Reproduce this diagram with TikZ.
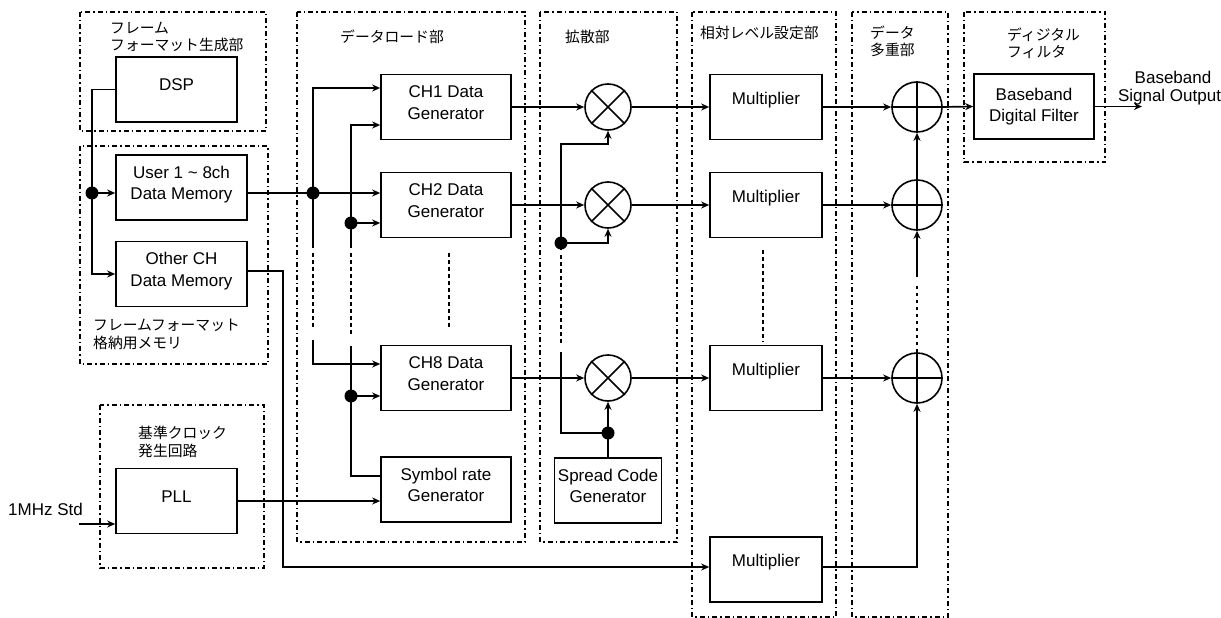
\documentclass[tikz,border=0pt]{standalone}
\usepackage{fontspec}
\setmainfont{Liberation Sans}
\newfontfamily\jp{Noto Sans CJK JP}
\usetikzlibrary{arrows.meta,calc}

\begin{document}
\begin{tikzpicture}[x=1pt,y=-1pt,
  wire/.style={line width=1.7pt},
  arr/.style={wire,-{Stealth[length=8pt,width=7pt,inset=2.5pt]}},
  dots/.style={line width=1.7pt,dash pattern=on 3.5pt off 3.5pt},
  group/.style={line width=1.6pt,dash pattern=on 5pt off 3pt on 1.5pt off 3pt},
  box/.style={draw,line width=1.6pt,minimum height=65pt,inner sep=0pt,align=center,
    font=\fontsize{17}{21.5}\selectfont},
  raised/.style={text depth=9pt},
  multbox/.style={box,text depth=18pt,minimum width=112pt},
  mixer/.style={draw,circle,line width=1.6pt,minimum size=46pt,inner sep=0pt},
  adder/.style={draw,circle,line width=1.6pt,minimum size=50pt,inner sep=0pt},
  dot/.style={circle,fill,inner sep=0pt,minimum size=13pt},
  jlabel/.style={anchor=base west,align=left,inner sep=0pt,
    font=\jp\fontsize{14.8}{17.5}\selectfont},
  txt/.style={inner sep=0pt,font=\fontsize{17}{21.5}\selectfont}
]
\useasboundingbox (0,0) rectangle (1221,618);

% ---- functional groups (dash-dot frames) ----
\draw[group] (80,12) rectangle (266,131);
\draw[group] (80,146) rectangle (268,364);
\draw[group] (100,405) rectangle (264,568);
\draw[group] (297,12) rectangle (525,542);
\draw[group] (540,12) rectangle (677,542);
\draw[group] (692,12) rectangle (836,617);
\draw[group] (852,12) rectangle (948,617);
\draw[group] (964,12) rectangle (1105,162);

% group titles; for two-line titles the base anchor sits on the last line
\node[jlabel] (lFrame) at (110,51) {フレーム\\フォーマット生成部};
\node[jlabel] (lMem) at (93,348) {フレームフォーマット\\格納用メモリ};
\node[jlabel] (lClock) at (138,456) {基準クロック\\発生回路};
\node[jlabel] (lLoad) at (340,43) {データロード部};
\node[jlabel] (lSpread) at (565,43) {拡散部};
\node[jlabel] (lLevel) at (700,39) {相対レベル設定部};
\node[jlabel] (lMux) at (870,56) {データ\\多重部};
\node[jlabel] (lFilt) at (1007,58) {ディジタル\\フィルタ};

% ---- blocks ----
\node[box,raised,minimum width=121pt] (dsp) at (176.5,89.5) {DSP};
\node[box,raised,minimum width=131pt] (umem) at (181.5,187.5) {User 1 \textasciitilde{} 8ch\\Data Memory};
\node[box,raised,minimum width=131pt] (omem) at (181.5,274) {Other CH\\Data Memory};
\node[box,raised,minimum width=121pt] (pll) at (176.5,501) {PLL};

\node[box,raised,minimum width=130pt] (ch1) at (446,107) {CH1 Data\\Generator};
\node[box,raised,minimum width=130pt] (ch2) at (446,205) {CH2 Data\\Generator};
\node[box,raised,minimum width=130pt] (ch8) at (446,378) {CH8 Data\\Generator};
\node[box,raised,minimum width=130pt] (sym) at (446,489.5) {Symbol rate\\Generator};

\node[mixer] (mx1) at (608,107) {};
\node[mixer] (mx2) at (608,205) {};
\node[mixer] (mx3) at (608,378) {};
\foreach \m in {mx1,mx2,mx3}
  \draw[line width=1.5pt] (\m.45) -- (\m.225) (\m.135) -- (\m.315);
\node[box,raised,minimum width=107pt] (scg) at (608,490.5) {Spread Code\\Generator};

\node[multbox] (ml1) at (766,107) {Multiplier};
\node[multbox] (ml2) at (766,205) {Multiplier};
\node[multbox] (ml3) at (766,378) {Multiplier};
\node[multbox] (ml4) at (766,569.5) {Multiplier};

\node[adder] (ad1) at (917,107) {};
\node[adder] (ad2) at (917,205) {};
\node[adder] (ad3) at (917,378) {};
\foreach \a in {ad1,ad2,ad3}
  \draw[line width=1.5pt] (\a.north) -- (\a.south) (\a.west) -- (\a.east);

\node[box,minimum width=120pt] (bdf) at (1034,106.5) {Baseband\\Digital Filter};

% ---- frame memory feed ----
\coordinate (j1) at (92,193);
\draw[arr] (dsp.west) -| (j1) |- (omem.west);
\draw[arr] (j1) -- (umem.west |- j1);

% ---- data bus and clock bus of the data load section ----
\coordinate (aTop) at (313,88);
\coordinate (aDot) at (313,193);
\coordinate (aEnd) at (313,248);
\coordinate (aD1) at (313,253);
\coordinate (aD2) at (313,328);
\coordinate (aLow) at (313,340);
\coordinate (a8) at (313,364);
\draw[arr] (aEnd) -- (aTop) -- (ch1.west |- aTop);
\draw[arr] (umem.east |- aDot) -- (ch2.west |- aDot);
\draw[dots] (aD1) -- (aD2);
\draw[arr] (aLow) |- (ch8.west |- a8);

\coordinate (bTop) at (351,125);
\coordinate (bDot) at (351,223);
\coordinate (bEnd) at (351,248);
\coordinate (bD1) at (351,253);
\coordinate (bD2) at (351,335);
\coordinate (bLow) at (351,346);
\coordinate (b8) at (351,396);
\coordinate (bSym) at (351,476);
\draw[arr] (bEnd) -- (bTop) -- (ch1.west |- bTop);
\draw[arr] (bDot) -- (ch2.west |- bDot);
\draw[dots] (bD1) -- (bD2);
\draw[wire] (sym.west |- bSym) -| (bLow);
\draw[arr] (b8) -- (ch8.west |- b8);

\coordinate (gD1) at (449,253);
\coordinate (gD2) at (449,328);
\draw[dots] (gD1) -- (gD2);

% ---- reference clock ----
\coordinate (inS) at (79,524);
\node[txt,anchor=west] (lIn) at (8,509) {1MHz Std};
\draw[arr] (inS) -- (pll.west |- inS);
\draw[arr] (pll.east) -- (pll.east -| sym.west);

% ---- other channel path ----
\coordinate (oBend) at (283,271);
\coordinate (oLow) at (283,567);
\draw[arr] (omem.east |- oBend) -- (oBend) -- (oLow) -- (ml4.west |- oLow);

% ---- spreading ----
\draw[arr] (ch1.east) -- (mx1.west);
\draw[arr] (ch2.east) -- (mx2.west);
\draw[arr] (ch8.east) -- (mx3.west);

\coordinate (s1) at (561,144);
\coordinate (s2) at (561,243);
\coordinate (s2e) at (561,250);
\coordinate (sD1) at (561,255);
\coordinate (sD2) at (561,343);
\coordinate (s3) at (561,352);
\coordinate (sd) at (608,433);
\draw[arr] (s2e) -- (s1) -| (mx1.south);
\draw[arr] (s2) -| (mx2.south);
\draw[dots] (sD1) -- (sD2);
\draw[wire] (s3) |- (sd);
\draw[arr] (scg.north) -- (mx3.south);

% ---- level setting ----
\draw[arr] (mx1.east) -- (ml1.west);
\draw[arr] (mx2.east) -- (ml2.west);
\draw[arr] (mx3.east) -- (ml3.west);
\coordinate (mD1) at (763,250);
\coordinate (mD2) at (763,342);
\draw[dots] (mD1) -- (mD2);

% ---- multiplexing ----
\draw[arr] (ml1.east) -- (ad1.west);
\draw[arr] (ml2.east) -- (ad2.west);
\draw[arr] (ml3.east) -- (ad3.west);
\draw[arr] (ml4.east |- oLow) -| (ad3.south);
\draw[arr] (ad2.north) -- (ad1.south);
\coordinate (adD) at (917,283);
\coordinate (adS) at (917,277);
\draw[dots] (ad3.north) -- (adD);
\draw[arr] (adS) -- (ad2.south);

% ---- digital filter and output ----
\draw[arr] (ad1.east) -- (bdf.west);
\coordinate (out) at (1142,106.5);
\draw[arr] (bdf.east) -- (out);
\node[txt,anchor=base] (lOut1) at (1173,84) {Baseband};
\node[txt,anchor=base] (lOut2) at (1169.5,101) {Signal Output};

% ---- junction dots ----
\node[dot] (dj1) at (j1) {};
\node[dot] (daD) at (aDot) {};
\node[dot] (dbD) at (bDot) {};
\node[dot] (db8) at (b8) {};
\node[dot] (ds2) at (s2) {};
\node[dot] (dsd) at (sd) {};
\end{tikzpicture}
\end{document}
